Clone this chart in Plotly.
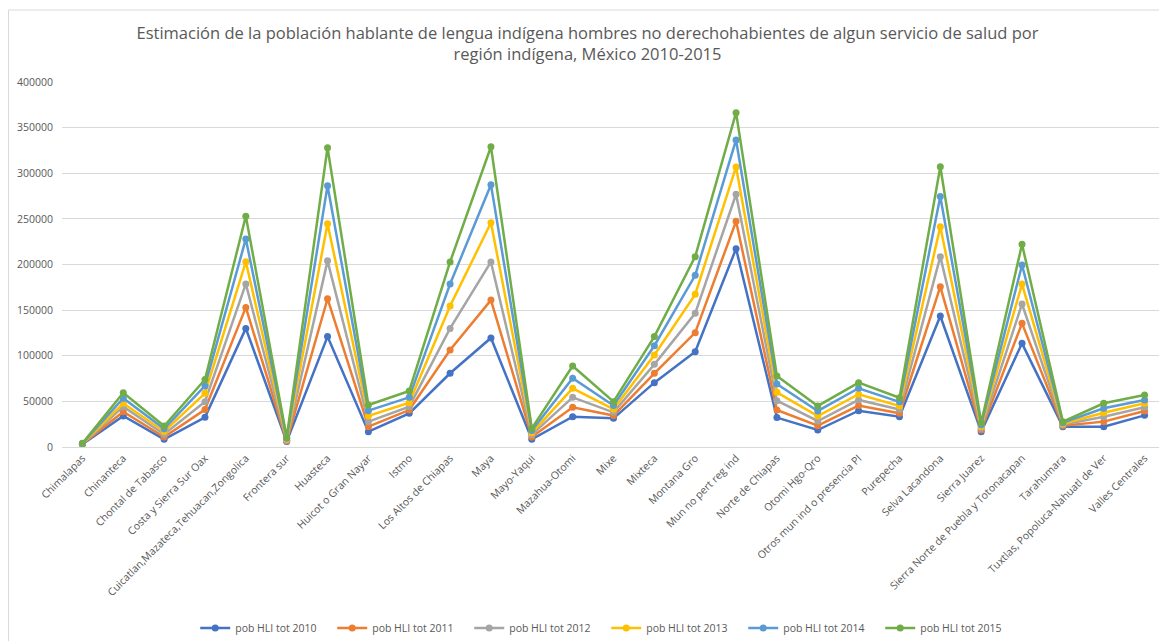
import plotly.graph_objects as go

categories = [
    "Chimalapas", "Chinanteca", "Chontal de Tabasco", "Costa y Sierra Sur Oax",
    "Cuicatlan,Mazateca,Tehuacan,Zongolica", "Frontera sur", "Huasteca",
    "Huicot o Gran Nayar", "Istmo", "Los Altos de Chiapas", "Maya", "Mayo-Yaqui",
    "Mazahua-Otomi", "Mixe", "Mixteca", "Montana Gro", "Mun no pert reg ind",
    "Norte de Chiapas", "Otomi Hgo-Qro", "Otros mun ind o presencia PI", "Purepecha",
    "Selva Lacandona", "Sierra Juarez", "Sierra Norte de Puebla y Totonacapan",
    "Tarahumara", "Tuxtlas, Popoluca-Nahuatl de Ver", "Valles Centrales",
]

pob_2010 = [3000, 34000, 8400, 32500, 130000, 6000, 121000, 16800, 36900, 80800, 119500, 8400,
            33200, 31400, 70500, 104500, 217300, 32200, 18600, 39800, 33200, 143600, 16800,
            113600, 22300, 22300, 34700]
pob_2011 = [3200, 38700, 11000, 41000, 153000, 6500, 162500, 22300, 40500, 106300, 161000, 11000,
            43500, 34500, 80800, 125300, 247300, 40500, 23400, 45400, 37000, 175700, 18500,
            135500, 23400, 27800, 39500]
pob_2012 = [3400, 44200, 14000, 49700, 178700, 7500, 204000, 27800, 44200, 130000, 202800, 13500,
            54400, 38000, 90600, 146500, 277000, 50800, 28500, 51600, 41000, 208600, 20500,
            156700, 24500, 33200, 43500]
pob_2013 = [3600, 47900, 17000, 58800, 203000, 8500, 244700, 34000, 48600, 154500, 245800, 15500,
            64300, 41500, 100800, 167300, 306900, 59900, 34000, 57800, 45000, 241500, 22500,
            178600, 25500, 37600, 47900]
pob_2014 = [3800, 53400, 20000, 66900, 228000, 9500, 286400, 39800, 54400, 178600, 287500, 18000,
            75300, 45500, 111000, 188100, 336500, 69000, 39500, 64400, 49500, 274400, 24500,
            199500, 26600, 42400, 51500]
pob_2015 = [4000, 59500, 23000, 74000, 253000, 10500, 328000, 46000, 61400, 202800, 329000, 20400,
            88800, 49700, 121000, 208600, 366400, 77800, 45000, 70500, 54000, 307200, 26600,
            222100, 27800, 47900, 57000]

series_names = ["pob HLI tot 2010", "pob HLI tot 2011", "pob HLI tot 2012",
                "pob HLI tot 2013", "pob HLI tot 2014", "pob HLI tot 2015"]
series_values = [pob_2010, pob_2011, pob_2012, pob_2013, pob_2014, pob_2015]
colors = ["#4472C4", "#ED7D31", "#A5A5A5", "#FFC000", "#5B9BD5", "#70AD47"]

y_ticks = [0, 50000, 100000, 150000, 200000, 250000, 300000, 350000, 400000]

FONT = "Open Sans"
TXT = "#595959"
W, H = 1159, 633
L, R, T, B = 54, 2, 74, 194
PW, PH = W - L - R, H - T - B

fig = go.Figure()
for name, vals, col in zip(series_names, series_values, colors):
    fig.add_trace(go.Scatter(
        x=categories, y=vals, name=name, mode="lines+markers",
        line=dict(color=col, width=2.5),
        marker=dict(color=col, size=7, symbol="circle"),
    ))

fig.update_layout(
    width=W, height=H,
    margin=dict(l=L, r=R, t=T, b=B, autoexpand=False),
    paper_bgcolor="white", plot_bgcolor="white",
    font=dict(family=FONT, color=TXT, size=11),
    title=dict(
        text="Estimación de la población hablante de lengua indígena hombres no derechohabientes de algun servicio de salud por<br>región indígena, México 2010-2015",
        x=0.5, xanchor="center", xref="container",
        y=1 - 30.5 / H, yanchor="middle", yref="container",
        font=dict(family=FONT, size=16.5, color=TXT),
    ),
    showlegend=True,
    legend=dict(
        orientation="h", x=0.4934, xanchor="center", y=-0.496, yanchor="middle",
        font=dict(family=FONT, size=10.5, color=TXT),
        bgcolor="rgba(0,0,0,0)", entrywidth=92, entrywidthmode="pixels",
    ),
    xaxis=dict(
        type="category", tickangle=-45, showgrid=False, automargin=False,
        showline=True, linecolor="#D9D9D9", linewidth=1,
        ticks="", tickfont=dict(family=FONT, size=10.5, color=TXT),
        range=[-0.5, len(categories) - 0.5],
    ),
    yaxis=dict(
        range=[0, 400000], tickvals=y_ticks, ticktext=[str(v) for v in y_ticks],
        showgrid=True, gridcolor="#D9D9D9", gridwidth=1, zeroline=False, automargin=False,
        showline=False, ticks="", ticklabelstandoff=8,
        tickfont=dict(family=FONT, size=10.5, color=TXT),
    ),
    shapes=[
        dict(type="line", xref="paper", yref="paper",
             x0=(0.5 - L) / PW, x1=(0.5 - L) / PW,
             y0=-(B + 5) / PH, y1=(PH + T - 2) / PH,
             line=dict(color="#D9D9D9", width=1)),
        dict(type="line", xref="paper", yref="paper",
             x0=(0.5 - L) / PW, x1=1.01,
             y0=(PH + T - 2) / PH, y1=(PH + T - 2) / PH,
             line=dict(color="#D9D9D9", width=1)),
    ],
)

fig.write_html("out.html")
